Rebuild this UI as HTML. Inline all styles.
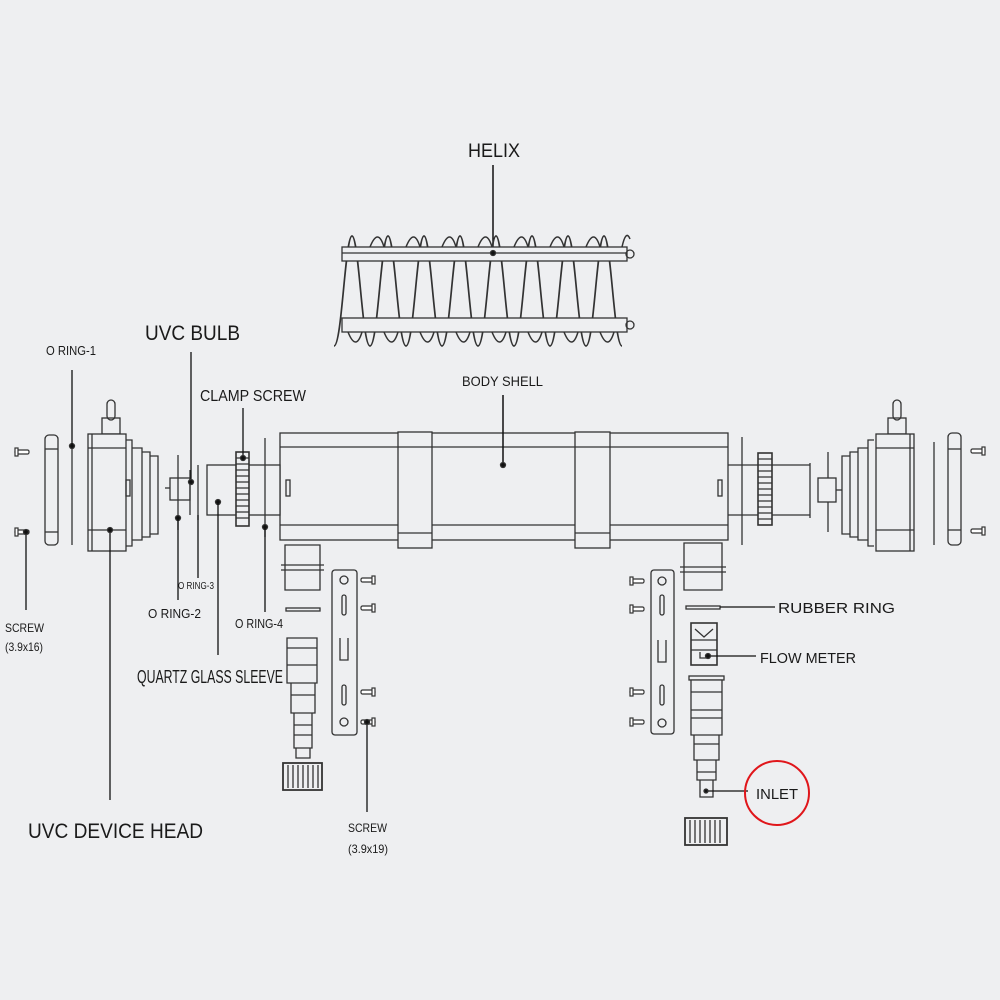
<!DOCTYPE html>
<html><head><meta charset="utf-8"><style>
html,body{margin:0;padding:0;background:#eeeff1;}
svg{display:block;}
text{font-family:"Liberation Sans",sans-serif;fill:#1a1a1a;}
</style></head><body>
<svg width="1000" height="1000" viewBox="0 0 1000 1000" xmlns="http://www.w3.org/2000/svg">
<rect width="1000" height="1000" fill="#eeeff1"/>
<defs>
<path id="loop" d="M0,110 C8,110 11,0 18,0 C25,0 28,110 36,110" fill="none" stroke="#333" stroke-width="1.7"/>
<g id="screwL"><rect x="0" y="-2" width="14" height="4" rx="1.5" fill="#fff" stroke="#333" stroke-width="1.2"/><rect x="0" y="-4" width="3" height="8" fill="#fff" stroke="#333" stroke-width="1.2"/></g>
</defs>
<g stroke="#333" stroke-width="1.3" fill="none">
<!-- HELIX -->
<line x1="493" y1="165" x2="493" y2="253" stroke="#111" stroke-width="1.5"/>
<g transform="translate(334,236)">
<use href="#loop" x="0"/><use href="#loop" x="36"/><use href="#loop" x="72"/><use href="#loop" x="108"/><use href="#loop" x="144"/><use href="#loop" x="180"/><use href="#loop" x="216"/><use href="#loop" x="252"/>
</g>
<rect x="342" y="247" width="285" height="14" fill="#eeeff1"/>
<line x1="342" y1="253" x2="627" y2="253"/>
<rect x="342" y="318" width="285" height="14" fill="#eeeff1"/>
<circle cx="630" cy="254" r="4"/><circle cx="630" cy="325" r="4"/>
<g stroke-width="1.5">
<path d="M370,247 q8,-20 14,0 M406,247 q8,-20 14,0 M442,247 q8,-20 14,0 M478,247 q8,-20 14,0 M514,247 q8,-20 14,0 M550,247 q8,-20 14,0 M586,247 q8,-20 14,0 M622,247 q4,-18 8,-8"/>
<path d="M348,332 q8,20 14,0 M384,332 q8,20 14,0 M420,332 q8,20 14,0 M456,332 q8,20 14,0 M492,332 q8,20 14,0 M528,332 q8,20 14,0 M564,332 q8,20 14,0 M600,332 q8,20 14,0"/>
</g>
<circle cx="493" cy="253" r="2.5" fill="#111"/>

<!-- BODY SHELL -->
<rect x="280" y="433" width="448" height="107" fill="#eeeff1"/>
<line x1="280" y1="447" x2="728" y2="447"/><line x1="280" y1="525" x2="728" y2="525"/>
<rect x="398" y="432" width="34" height="116" fill="#eeeff1"/>
<rect x="575" y="432" width="35" height="116" fill="#eeeff1"/>
<line x1="398" y1="447" x2="432" y2="447"/><line x1="575" y1="447" x2="610" y2="447"/>
<line x1="398" y1="533" x2="432" y2="533"/><line x1="575" y1="533" x2="610" y2="533"/>
<rect x="286" y="480" width="4" height="16"/><rect x="718" y="480" width="4" height="16"/>
<line x1="503" y1="395" x2="503" y2="465" stroke="#111" stroke-width="1.5"/>
<circle cx="503" cy="465" r="2.5" fill="#111"/>

<!-- LEFT ASSEMBLY -->
<use href="#screwL" x="15" y="452"/><use href="#screwL" x="15" y="532"/>
<rect x="45" y="435" width="13" height="110" rx="4" fill="#eeeff1"/>
<line x1="45" y1="449" x2="58" y2="449"/><line x1="45" y1="532" x2="58" y2="532"/>
<line x1="72" y1="445" x2="72" y2="545"/>
<circle cx="72" cy="446" r="2.5" fill="#111"/>
<line x1="72" y1="370" x2="72" y2="446" stroke="#111"/>
<rect x="107" y="400" width="8" height="20" rx="4"/>
<rect x="102" y="418" width="18" height="16"/>
<rect x="88" y="434" width="38" height="117" fill="#eeeff1"/>
<line x1="92" y1="434" x2="92" y2="551"/>
<line x1="88" y1="448" x2="126" y2="448"/><line x1="88" y1="530" x2="126" y2="530"/>
<path d="M126,440 h6 v106 h-6 M132,448 h10 v92 h-10 M142,452 h8 v85 h-8 M150,456 h8 v78 h-8"/>
<rect x="126" y="480" width="4" height="16"/>
<line x1="110" y1="530" x2="110" y2="800" stroke="#111"/>
<circle cx="110" cy="530" r="2.5" fill="#111"/>
<line x1="26" y1="532" x2="26" y2="610" stroke="#111"/>
<circle cx="26" cy="532" r="2.5" fill="#111"/>
<rect x="170" y="478" width="20" height="22" fill="#eeeff1"/>
<line x1="165" y1="488" x2="170" y2="488"/>
<line x1="190" y1="470" x2="190" y2="515"/>
<line x1="178" y1="455" x2="178" y2="530"/>
<circle cx="178" cy="518" r="2.5" fill="#111"/>
<line x1="178" y1="518" x2="178" y2="600" stroke="#111"/>
<line x1="191" y1="352" x2="191" y2="482" stroke="#111"/>
<circle cx="191" cy="482" r="2.5" fill="#111"/>
<line x1="198" y1="465" x2="198" y2="520"/>
<line x1="198" y1="515" x2="198" y2="578" stroke="#111"/>
<rect x="207" y="465" width="73" height="50" fill="#eeeff1"/>
<rect x="236" y="452" width="13" height="74" fill="#eeeff1" stroke-width="1.6"/>
<path d="M236,458 h13 M236,464 h13 M236,470 h13 M236,476 h13 M236,482 h13 M236,488 h13 M236,494 h13 M236,500 h13 M236,506 h13 M236,512 h13 M236,518 h13"/>
<line x1="243" y1="408" x2="243" y2="458" stroke="#111"/>
<circle cx="243" cy="458" r="2.5" fill="#111"/>
<circle cx="218" cy="502" r="2.5" fill="#111"/>
<line x1="218" y1="502" x2="218" y2="655" stroke="#111"/>
<line x1="265" y1="438" x2="265" y2="537"/>
<circle cx="265" cy="527" r="2.5" fill="#111"/>
<line x1="265" y1="527" x2="265" y2="612" stroke="#111"/>

<!-- left outlet -->
<path d="M285,545 h35 v45 h-35 z" fill="#eeeff1"/>
<line x1="281" y1="565" x2="324" y2="565"/><line x1="281" y1="570" x2="324" y2="570"/>
<rect x="286" y="608" width="34" height="3"/>
<path d="M287,638 h30 v45 h-30 z M291,683 h24 v30 h-24 z M294,713 h18 v35 h-18 z M296,748 h14 v10 h-14 z" fill="#eeeff1"/>
<path d="M287,648 h30 M287,665 h30 M291,695 h24 M294,725 h18 M294,735 h18"/>
<rect x="283" y="763" width="39" height="27" fill="#eeeff1" stroke-width="1.8"/>
<path d="M288,765 v23 M293,765 v23 M298,765 v23 M303,765 v23 M308,765 v23 M313,765 v23 M318,765 v23"/>
<!-- left bracket -->
<rect x="332" y="570" width="25" height="165" rx="3" fill="#eeeff1"/>
<circle cx="344" cy="580" r="4"/><circle cx="344" cy="722" r="4"/>
<rect x="342" y="595" width="4" height="20" rx="2"/><rect x="342" y="685" width="4" height="20" rx="2"/>
<path d="M340,638 v22 h8 v-22"/>
<g transform="translate(736,0) scale(-1,1)">
<use href="#screwL" x="361" y="580"/><use href="#screwL" x="361" y="608"/><use href="#screwL" x="361" y="692"/><use href="#screwL" x="361" y="722"/>
</g>
<line x1="367" y1="722" x2="367" y2="812" stroke="#111"/>
<circle cx="367" cy="722" r="2.5" fill="#111"/>

<!-- RIGHT ASSEMBLY -->
<line x1="742" y1="437" x2="742" y2="545"/>
<line x1="728" y1="465" x2="810" y2="465"/><line x1="728" y1="515" x2="810" y2="515"/>
<rect x="758" y="453" width="14" height="72" fill="#eeeff1" stroke-width="1.6"/>
<path d="M758,459 h14 M758,465 h14 M758,471 h14 M758,477 h14 M758,483 h14 M758,489 h14 M758,495 h14 M758,501 h14 M758,507 h14 M758,513 h14 M758,519 h14"/>
<line x1="810" y1="463" x2="810" y2="518"/>
<line x1="828" y1="452" x2="828" y2="532"/>
<rect x="818" y="478" width="18" height="24" fill="#eeeff1"/>
<line x1="836" y1="490" x2="842" y2="490"/>
<path d="M874,440 h-6 v106 h6 M868,448 h-10 v92 h10 M858,452 h-8 v85 h8 M850,456 h-8 v78 h8"/>
<rect x="893" y="400" width="8" height="20" rx="4"/>
<rect x="888" y="418" width="18" height="16"/>
<rect x="876" y="434" width="38" height="117" fill="#eeeff1"/>
<line x1="910" y1="434" x2="910" y2="551"/>
<line x1="876" y1="448" x2="914" y2="448"/><line x1="876" y1="530" x2="914" y2="530"/>
<line x1="934" y1="442" x2="934" y2="545"/>
<rect x="948" y="433" width="13" height="112" rx="4" fill="#eeeff1"/>
<line x1="948" y1="449" x2="961" y2="449"/><line x1="948" y1="530" x2="961" y2="530"/>
<g transform="translate(1960,0) scale(-1,1)">
<use href="#screwL" x="975" y="451"/><use href="#screwL" x="975" y="531"/>
</g>

<!-- right outlet -->
<path d="M684,543 h38 v47 h-38 z" fill="#eeeff1"/>
<line x1="680" y1="567" x2="726" y2="567"/><line x1="680" y1="572" x2="726" y2="572"/>
<rect x="686" y="606" width="34" height="3"/>
<line x1="720" y1="607" x2="775" y2="607" stroke="#111"/>
<rect x="691" y="623" width="26" height="42" fill="#eeeff1" stroke-width="1.6"/>
<path d="M691,640 h26 M691,650 h26 M695,629 l9,8 l9,-8 M700,652 v6 h8"/>
<line x1="708" y1="656" x2="756" y2="656" stroke="#111"/>
<circle cx="708" cy="656" r="2.5" fill="#111"/>
<rect x="689" y="676" width="35" height="4"/>
<path d="M691,680 h31 v55 h-31 z M694,735 h25 v25 h-25 z M697,760 h19 v20 h-19 z M700,780 h13 v17 h-13 z" fill="#eeeff1"/>
<path d="M691,692 h31 M691,710 h31 M691,718 h31 M694,744 h25 M697,772 h19"/>
<line x1="706" y1="791" x2="748" y2="791" stroke="#111"/>
<circle cx="706" cy="791" r="2" fill="#111"/>
<rect x="685" y="818" width="42" height="27" fill="#eeeff1" stroke-width="1.8"/>
<path d="M690,820 v23 M695,820 v23 M700,820 v23 M705,820 v23 M710,820 v23 M715,820 v23 M720,820 v23"/>
<rect x="651" y="570" width="23" height="164" rx="3" fill="#eeeff1"/>
<circle cx="662" cy="581" r="4"/><circle cx="662" cy="723" r="4"/>
<rect x="660" y="595" width="4" height="20" rx="2"/><rect x="660" y="685" width="4" height="20" rx="2"/>
<path d="M658,640 v22 h8 v-22"/>
<use href="#screwL" x="630" y="581"/><use href="#screwL" x="630" y="609"/><use href="#screwL" x="630" y="692"/><use href="#screwL" x="630" y="722"/>
</g>
<circle cx="777" cy="793" r="32" fill="none" stroke="#e0161b" stroke-width="2"/>

<!-- TEXT -->
<text x="468" y="157" font-size="19" textLength="52" lengthAdjust="spacingAndGlyphs">HELIX</text>
<text x="462" y="386" font-size="14" textLength="81" lengthAdjust="spacingAndGlyphs">BODY SHELL</text>
<text x="46" y="355" font-size="13" textLength="50" lengthAdjust="spacingAndGlyphs">O RING-1</text>
<text x="145" y="340" font-size="21" textLength="95" lengthAdjust="spacingAndGlyphs">UVC BULB</text>
<text x="200" y="401" font-size="16" textLength="106" lengthAdjust="spacingAndGlyphs">CLAMP SCREW</text>
<text x="178" y="589" font-size="10" textLength="36" lengthAdjust="spacingAndGlyphs">O RING-3</text>
<text x="148" y="618" font-size="13" textLength="53" lengthAdjust="spacingAndGlyphs">O RING-2</text>
<text x="235" y="628" font-size="13" textLength="48" lengthAdjust="spacingAndGlyphs">O RING-4</text>
<text x="5" y="632" font-size="12" textLength="39" lengthAdjust="spacingAndGlyphs">SCREW</text>
<text x="5" y="651" font-size="12" textLength="38" lengthAdjust="spacingAndGlyphs">(3.9x16)</text>
<text x="137" y="683" font-size="18" textLength="146" lengthAdjust="spacingAndGlyphs">QUARTZ GLASS SLEEVE</text>
<text x="28" y="838" font-size="21" textLength="175" lengthAdjust="spacingAndGlyphs">UVC DEVICE HEAD</text>
<text x="348" y="832" font-size="12" textLength="39" lengthAdjust="spacingAndGlyphs">SCREW</text>
<text x="348" y="853" font-size="12" textLength="40" lengthAdjust="spacingAndGlyphs">(3.9x19)</text>
<text x="778" y="613" font-size="15" textLength="117" lengthAdjust="spacingAndGlyphs">RUBBER RING</text>
<text x="760" y="663" font-size="15" textLength="96" lengthAdjust="spacingAndGlyphs">FLOW METER</text>
<text x="756" y="799" font-size="15" textLength="42" lengthAdjust="spacingAndGlyphs">INLET</text>
</svg>
</body></html>
